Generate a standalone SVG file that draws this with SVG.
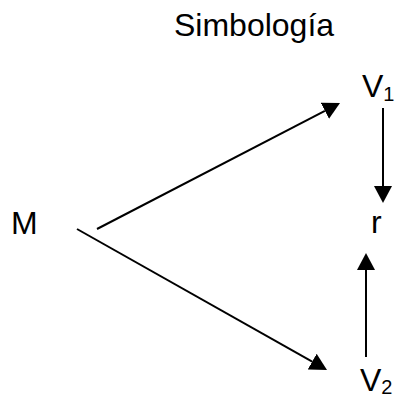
<svg xmlns="http://www.w3.org/2000/svg" width="399" height="399" viewBox="0 0 399 399">
<style>
text{font-family:"Liberation Sans",Arial,sans-serif;fill:#000}
.lbl{font-size:32px}
.sub{font-size:20px}
.c{stroke:#000;stroke-width:2;fill:none}
</style>
<defs>
<marker id="ah" viewBox="0 0 17 18" refX="0" refY="9" markerWidth="17" markerHeight="18" markerUnits="userSpaceOnUse" orient="auto">
<path d="M0,0 L17,9 L0,18 Z" fill="#000"/>
</marker>
</defs>
<rect width="399" height="399" fill="#fff"/>
<text x="174" y="36" class="lbl">Simbología</text>
<g id="connectors">
<line class="c" x1="97" y1="229" x2="324.9" y2="110.8" marker-end="url(#ah)"/>
<line class="c" x1="77" y1="229" x2="312.2" y2="361.6" marker-end="url(#ah)"/>
<line class="c" x1="383" y1="108" x2="383" y2="186" marker-end="url(#ah)"/>
<line class="c" x1="366" y1="357" x2="366" y2="270" marker-end="url(#ah)"/>
</g>
<g id="M"><text x="11" y="234" class="lbl">M</text></g>
<g id="V1"><text x="362" y="97" class="lbl">V<tspan class="sub" dy="4">1</tspan></text></g>
<g id="r"><text x="371" y="233" class="lbl">r</text></g>
<g id="V2"><text x="360" y="391" class="lbl">V<tspan class="sub" dy="3">2</tspan></text></g>
</svg>
